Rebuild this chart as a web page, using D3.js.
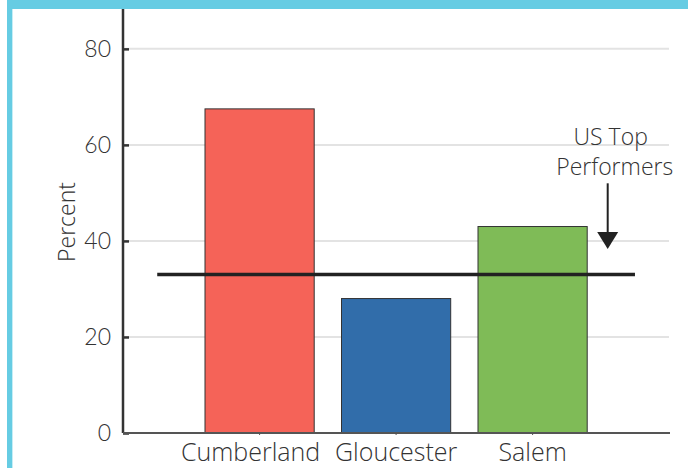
<!DOCTYPE html>
<html><head><meta charset="utf-8">
<script src="https://cdn.jsdelivr.net/npm/d3@7"></script>
<style>
html,body{margin:0;padding:0;background:#fff;}
svg{display:block;font-family:"Open Sans",Lato,sans-serif;}
</style></head>
<body>
<script>
const categories = ["Cumberland", "Gloucester", "Salem"];
const values = [67.5, 28, 43];
const colors = ["#F56358", "#316DAA", "#7FBB57"];
const yTicks = [0, 20, 40, 60, 80];
const yMax = 88.3;
const benchmark = 33;
const benchmarkLabel = ["US Top", "Performers"];
const arrowFrom = 52, arrowTo = 38.3;

const W = 688, H = 468;
const svg = d3.select("body").append("svg").attr("width", W).attr("height", H);

// frame
svg.append("rect").attr("x", 7).attr("y", 0).attr("width", W - 7).attr("height", 9).attr("fill", "#66CCE3");
svg.append("rect").attr("x", 7).attr("y", 0).attr("width", 5).attr("height", H).attr("fill", "#66CCE3");
svg.append("rect").attr("x", 12).attr("y", 9).attr("width", 1).attr("height", H).attr("fill", "#C5EDF5");

const x0 = 123, x1 = 670;
const y = d3.scaleLinear().domain([0, yMax]).range([433, 9]);
const x = d3.scaleBand().domain(categories).range([191.35, 600.85]).paddingInner(0.2).paddingOuter(0.1);

// gridlines
svg.append("g").selectAll("line").data(yTicks.filter(d => d > 0)).join("line")
  .attr("x1", x0 + 2).attr("x2", 669)
  .attr("y1", d => y(d)).attr("y2", d => y(d))
  .attr("stroke", "#e3e3e3").attr("stroke-width", 2);

// bars
svg.append("g").selectAll("rect").data(values).join("rect")
  .attr("x", (d, i) => x(categories[i]))
  .attr("width", x.bandwidth())
  .attr("y", d => y(d))
  .attr("height", d => y(0) - y(d))
  .attr("fill", (d, i) => colors[i])
  .attr("stroke", "#333").attr("stroke-width", 1);

// y axis
const yAxis = svg.append("g").attr("transform", `translate(${x0},0)`)
  .call(d3.axisLeft(y).tickValues(yTicks).tickSize(-6).tickPadding(12));
yAxis.select(".domain").attr("d", `M0,${y(yMax)}V${y(0)}`).attr("stroke", "#333").attr("stroke-width", 2.5);
yAxis.selectAll(".tick line").attr("stroke", "#333").attr("stroke-width", 2.5);
yAxis.selectAll(".tick text").attr("font-size", 23).attr("fill", "#333")
  .attr("font-family", "Lato, sans-serif").attr("font-weight", 300).attr("dx", 0);

// x axis
const xAxis = svg.append("g").attr("transform", `translate(0,${y(0)})`)
  .call(d3.axisBottom(x).tickSize(2).tickPadding(8));
xAxis.select(".domain").attr("d", `M${x0},0H${x1}`).attr("stroke", "#555").attr("stroke-width", 2);
xAxis.selectAll(".tick line").attr("stroke", "#555");
xAxis.selectAll(".tick text").attr("font-size", 25).attr("fill", "#333")
  .attr("font-family", "'Open Sans', sans-serif").attr("font-weight", 300)
  .attr("dx", (d, i) => i === 0 ? -9 : 0);

// y label
svg.append("text").attr("transform", `translate(75,${(y(0) + y(yMax)) / 2 + 1})rotate(-90)`)
  .attr("text-anchor", "middle").attr("font-size", 23).attr("font-weight", 300).attr("fill", "#333").text("Percent");

// benchmark line
const step = x.step();
svg.append("line")
  .attr("x1", x(categories[0]) - 0.35 * step)
  .attr("x2", x(categories[2]) + x.bandwidth() + 0.35 * step)
  .attr("y1", y(benchmark)).attr("y2", y(benchmark))
  .attr("stroke", "#222").attr("stroke-width", 3.5);

// arrow
const ax = x(categories[2]) + x.bandwidth() + 20.5;
svg.append("line").attr("x1", ax).attr("x2", ax)
  .attr("y1", y(arrowFrom)).attr("y2", y(arrowTo) - 15)
  .attr("stroke", "#222").attr("stroke-width", 2);
svg.append("path")
  .attr("d", `M${ax - 10.5},${y(arrowTo) - 17}L${ax + 10.5},${y(arrowTo) - 17}L${ax},${y(arrowTo)}Z`)
  .attr("fill", "#222");

// annotation text
svg.append("text").attr("text-anchor", "middle").attr("font-size", 23).attr("font-weight", 300).attr("fill", "#333")
  .selectAll("tspan").data(benchmarkLabel).join("tspan")
  .attr("x", (d, i) => i === 0 ? ax + 3 : ax + 7)
  .attr("y", (d, i) => 145 + i * 30)
  .text(d => d);
</script>
</body></html>
